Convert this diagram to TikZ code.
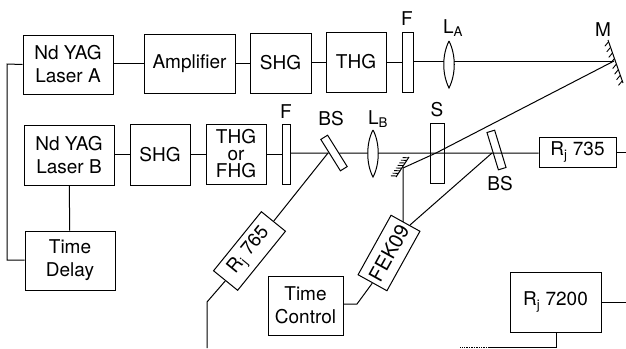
\documentclass[tikz,border=0pt]{standalone}
\usepackage{fontspec}
\setmainfont{TeX Gyre Heros}
\usetikzlibrary{decorations.markings}
\tikzset{
  unit/.style={draw, line width=1pt, inner sep=0pt, align=center, font=\fontsize{19}{23}\selectfont},
  plate/.style={draw, line width=1pt, inner sep=0pt},
  tag/.style={font=\fontsize{19}{23}\selectfont, inner sep=0pt},
  beam/.style={line width=1pt},
  lens/.style={draw, line width=1pt, fill=white},
  hatched/.style={line width=1pt, postaction={decorate}, decoration={markings,
    mark=between positions 0.04 and 1 step 0.13 with {\draw[line width=0.9pt] (0,0) -- (#1);}}}
}
\begin{document}
\begin{tikzpicture}[x=1pt, y=-1pt]
  \useasboundingbox (0,0) rectangle (626,348);

  % top row
  \node (laserA) [unit, minimum width=90pt, minimum height=59pt] at (68,64.5) {Nd YAG\\Laser A};
  \node (ampl) [unit, minimum width=91pt, minimum height=59pt] at (189.5,63.5) {Amplifier};
  \node (shgA) [unit, minimum width=61pt, minimum height=60pt] at (280.5,63) {SHG};
  \node (thgA) [unit, minimum width=60pt, minimum height=60pt] at (356,62) {THG};
  \node (fA) [plate, minimum width=11pt, minimum height=60pt] at (407.5,62) {};
  \node [tag] at (407,19) {F};
  \node [tag] at (453,28) {L\textsubscript{A}};
  \node [tag] at (603,30) {M};
  \coordinate (mirrorM) at (614,61);

  % bottom row
  \node (laserB) [unit, minimum width=90pt, minimum height=60pt] at (69,155) {Nd YAG\\Laser B};
  \node (shgB) [unit, minimum width=60pt, minimum height=61pt] at (160,154.5) {SHG};
  \node (thgB) [unit, minimum width=60pt, minimum height=60pt, font=\fontsize{19}{17}\selectfont] at (236,154) {THG\\or\\FHG};
  \node (fB) [plate, minimum width=8pt, minimum height=60pt] at (286,154) {};
  \node [tag] at (286,112) {F};
  \node (bsB) [plate, minimum width=37pt, minimum height=8pt, rotate=-58] at (334,153) {};
  \node [tag] at (331,119) {BS};
  \node [tag] at (378,119) {L\textsubscript{B}};
  \node (sample) [plate, minimum width=14pt, minimum height=60pt] at (437,153) {};
  \node [tag] at (437,110) {S};
  \node (bsS) [plate, minimum width=39pt, minimum height=8pt, rotate=-73] at (496.5,150) {};
  \node [tag] at (500,184) {BS};
  \node (rj735) [unit, minimum width=77pt, minimum height=30pt] at (577.5,152) {R\textsubscript{j} 735};
  \coordinate (spot) at (436,153);
  \coordinate (mirrorS) at (403,168);
  \coordinate (hitB) at (328,153);
  \coordinate (hitS) at (492,153);

  % lower units
  \node (delay) [unit, minimum width=90pt, minimum height=59pt] at (70,260.5) {Time\\Delay};
  \node (rj765) [unit, minimum width=76pt, minimum height=31pt, rotate=51] at (249.5,251) {R\textsubscript{j} 765};
  \node (fek) [unit, minimum width=68pt, minimum height=33pt, rotate=61, font=\fontsize{20}{22}\selectfont] at (389,253) {FEK09};
  \node (control) [unit, minimum width=75pt, minimum height=59pt] at (305.5,305.5) {Time\\Control};
  \node (rj7200) [unit, minimum width=91pt, minimum height=60pt] at (555.5,302) {R\textsubscript{j} 7200};
  \coordinate (fekTop) at (403,222);
  \coordinate (fekIn) at (410,225);
  \coordinate (rjBend) at (207,302);
  \coordinate (rjEnd) at (207,348);
  \coordinate (leftA) at (7,64);
  \coordinate (leftB) at (7,260);
  \coordinate (ctlBend) at (357,304);
  \coordinate (rightA) at (626,152);
  \coordinate (rightB) at (626,302);
  \coordinate (lowBend) at (556,347);
  \coordinate (lowEnd) at (490,347);
  \coordinate (lowFade) at (460,347);

  % beams
  \draw[beam] (laserA.east |- ampl) -- (ampl.west);
  \draw[beam] (ampl.east |- shgA) -- (shgA.west);
  \draw[beam] (shgA.east |- thgA) -- (thgA.west);
  \draw[beam] (thgA) -- (fA);
  \draw[beam] (fA.east |- mirrorM) -- (mirrorM);
  \draw[beam] (laserB.east |- shgB) -- (shgB.west);
  \draw[beam] (shgB.east |- thgB) -- (thgB.west);
  \draw[beam] (thgB) -- (fB);
  \draw[beam] (fB.east |- bsB) -- (bsB);
  \draw[beam] (bsB) -- (spot) -- (hitS) -- (rj735.west |- hitS);
  \draw[beam] (rj735) -- (rightA);
  \draw[beam] (mirrorM) -- (spot) -- (mirrorS) -- (fekTop);
  \draw[beam] (hitS) -- (fekIn);
  \draw[beam] (hitB) -- (rj765.east);
  \draw[beam] (rj765.west) -- (rjBend) -- (rjEnd);

  % wiring
  \draw[beam] (laserB) -- (delay);
  \draw[beam] (laserA.west) -- (leftA) -- (leftB) -- (delay.west |- leftB);
  \draw[beam] (control.east |- ctlBend) -- (ctlBend) -- (fek.west);
  \draw[beam] (rj7200) -- (rightB);
  \draw[beam] (rj7200.south -| lowBend) -- (lowBend) -- (lowEnd);
  \draw[line width=0.7pt, densely dotted] (lowEnd) -- (lowFade);

  % lenses and mirrors
  \draw[lens] (449,41) .. controls (442,55) and (442,74) .. (449,88) .. controls (456,74) and (456,55) .. (449,41);
  \draw[lens] (373,130) .. controls (366,143) and (366,164) .. (373,177) .. controls (380,164) and (380,143) .. (373,130);
  \draw[hatched={3,5}] (608,40) -- (623,83);
  \draw[hatched={3,5}] (409,157) -- (396,177);
\end{tikzpicture}
\end{document}
